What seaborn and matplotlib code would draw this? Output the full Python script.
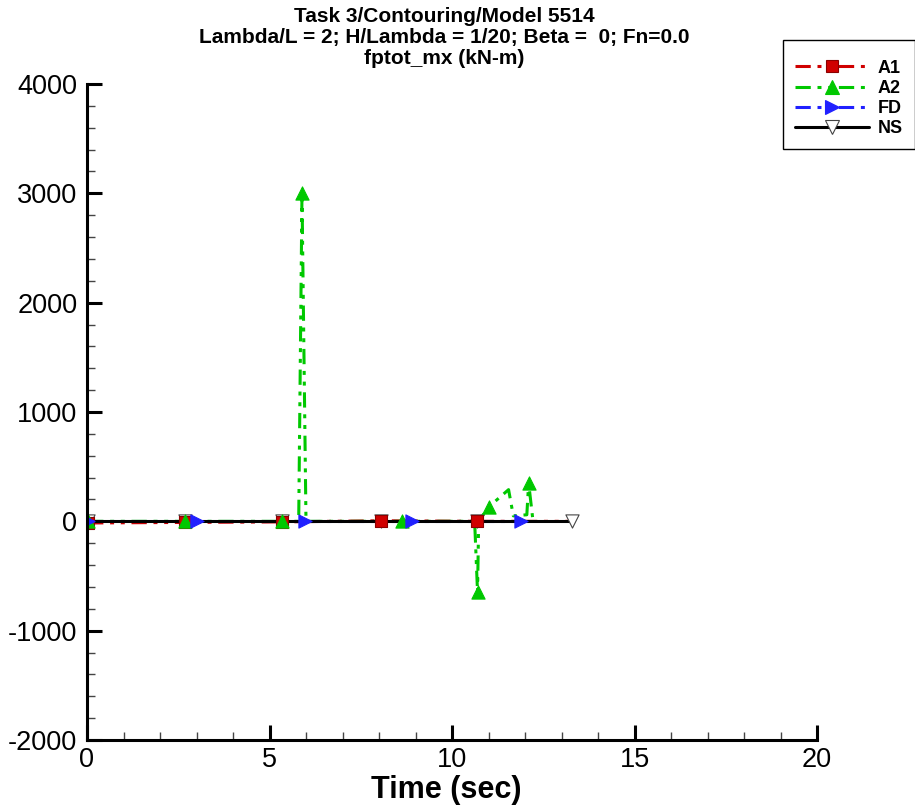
import matplotlib
matplotlib.use("Agg")
import matplotlib.pyplot as plt
from matplotlib.ticker import MultipleLocator
from matplotlib.lines import Line2D
import seaborn as sns
import numpy as np

# ---- data ----
a1_t = [0.03, 2.68, 5.34, 8.05, 10.68, 13.20]
a1_v = [-15, -10, -5, 5, 0, 0]
a1_marks = [0, 1, 2, 3, 4]

a2_t = [0.03, 2.68, 5.34, 5.80, 5.89, 6.00, 8.63, 10.62, 10.70, 10.73, 11.00, 11.55, 11.68, 12.05, 12.10, 12.22]
a2_v = [0, 0, 0, 0, 3000, 0, 0, 0, -650, 0, 130, 290, 50, 60, 350, 0]
a2_marks = [0, 1, 2, 4, 6, 8, 10, 14]

fd_t = [0.03, 3.01, 5.97, 8.90, 11.90, 12.00]
fd_v = [0, 0, 0, 0, 0, 0]
fd_marks = [0, 1, 2, 3, 4]

ns_t = [0.03, 2.68, 5.34, 8.05, 10.68, 13.29]
ns_v = [0, 0, 0, 0, 0, 0]
ns_marks = [0, 1, 2, 3, 4, 5]

labels = ["A1", "A2", "FD", "NS"]
title_lines = ["Task 3/Contouring/Model 5514",
               "Lambda/L = 2; H/Lambda = 1/20; Beta =  0; Fn=0.0",
               "fptot_mx (kN-m)"]
x_ticks = [0, 5, 10, 15, 20]
y_ticks = [-2000, -1000, 0, 1000, 2000, 3000, 4000]

sns.set_style("ticks")
plt.rcParams["font.family"] = ["Liberation Sans", "DejaVu Sans"]
plt.rcParams["axes.unicode_minus"] = False
for k in ["text.color", "axes.labelcolor", "xtick.color", "ytick.color"]:
    plt.rcParams[k] = "black"

fig = plt.figure(figsize=(9.15, 8.05), dpi=100)
ax = fig.add_axes([87 / 915, 1 - 740 / 805, 730 / 915, 656 / 805])

ddd = (0, (5, 2.2, 1.3, 2.2, 1.3, 2.2))
lw = 2.2
red, green, blue = "#D00000", "#00C800", "#2020FF"

series = [
    dict(t=a1_t, v=a1_v, m=a1_marks, color=red, ls=ddd, marker="s", ms=8.5,
         fc=red, ec="#8B0000"),
    dict(t=a2_t, v=a2_v, m=a2_marks, color=green, ls=ddd, marker="^", ms=9.5,
         fc=green, ec=green),
    dict(t=fd_t, v=fd_v, m=fd_marks, color=blue, ls=ddd, marker=">", ms=9.5,
         fc=blue, ec=blue),
    dict(t=ns_t, v=ns_v, m=ns_marks, color="black", ls="-", marker="v", ms=9.5,
         fc="white", ec="#444444"),
]

# lines first
for i, s in enumerate(series):
    sns.lineplot(x=s["t"], y=s["v"], ax=ax, sort=False, estimator=None,
                 color=s["color"], linewidth=lw, linestyle=s["ls"],
                 zorder=3 + (i == 3))

# then symbols: NS lowest, then A1, A2, FD on top
sym_z = [7, 8, 9, 6]
for i, s in enumerate(series):
    mt = [s["t"][j] for j in s["m"]]
    mv = [s["v"][j] for j in s["m"]]
    sns.scatterplot(x=mt, y=mv, ax=ax, marker=s["marker"], s=(s["ms"]) ** 2,
                    color=s["fc"], edgecolor=s["ec"], linewidth=0.8,
                    zorder=sym_z[i], legend=False)

ax.set_xlim(0, 20)
ax.set_ylim(-2000, 4000)
ax.set_xticks(x_ticks)
ax.set_yticks(y_ticks)
ax.xaxis.set_minor_locator(MultipleLocator(1))
ax.yaxis.set_minor_locator(MultipleLocator(200))

sns.despine(ax=ax)
for sp in ["left", "bottom"]:
    ax.spines[sp].set_linewidth(2.2)
    ax.spines[sp].set_color("black")
    ax.spines[sp].set_zorder(10)

ax.tick_params(which="major", direction="in", length=10.5, width=2.2,
               labelsize=19.5, color="black", pad=5)
ax.tick_params(which="minor", direction="in", length=5.5, width=1.0, color="#444444")
ax.tick_params(axis="y", which="major", pad=7)
ax.grid(False)

ax.set_xlabel("Time (sec)", fontsize=22, fontweight="bold")
ax.xaxis.set_label_coords(0.492, -0.0535)
ax.set_ylabel("")

for i, line in enumerate(title_lines):
    fig.text(444 / 915, 1 - (17 + 20.5 * i) / 805, line, ha="center", va="center",
             fontsize=15, fontweight="bold")

handles = [Line2D([], [], color=s["color"], linewidth=lw, linestyle=s["ls"],
                  marker=s["marker"], markersize=s["ms"], markerfacecolor=s["fc"],
                  markeredgecolor=s["ec"], markeredgewidth=0.8)
           for s in series]
leg = ax.legend(handles, labels, loc="upper left",
                bbox_to_anchor=(783 / 915, 1 - 40 / 805),
                bbox_transform=fig.transFigure, borderaxespad=0,
                frameon=True, fancybox=False, edgecolor="black", framealpha=1,
                handlelength=4.1, handletextpad=0.5, labelspacing=0.17,
                borderpad=0.65, prop={"weight": "bold", "size": 13}, numpoints=1,
                title=" ", title_fontsize=3.5)
leg.get_frame().set_linewidth(1.0)

fig.savefig("out.png", dpi=100)
